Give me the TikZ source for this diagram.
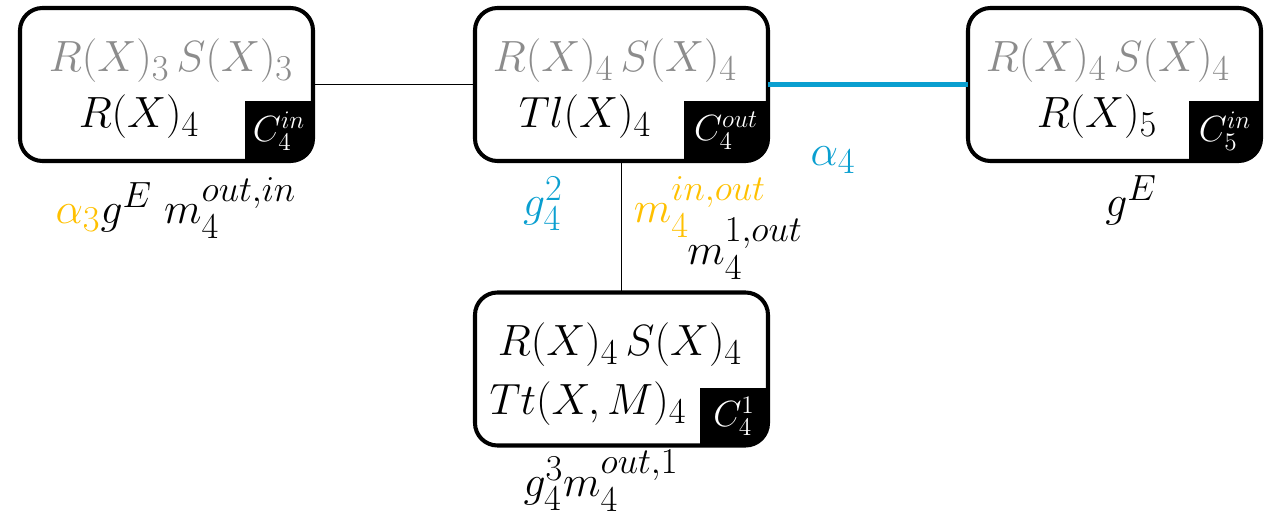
\documentclass[tikz,border=0pt]{standalone}
\usepackage{amsmath}
\usetikzlibrary{calc}
\definecolor{tgblue}{HTML}{0A9FD0}
\definecolor{tggold}{HTML}{FFC000}
\definecolor{tggray}{HTML}{8C8C8C}

\tikzset{
  bag/.style={draw,fill=white,line width=2.3pt,rounded corners=0.45cm,outer sep=0pt,
              minimum width=5.86cm,minimum height=3.06cm},
  tag/.style={fill=black,text=white,anchor=south east,inner sep=0pt,outer sep=0pt,
              minimum height=1.2cm,font=\fontsize{21}{24}\selectfont},
  big/.style={font=\fontsize{27.5}{30}\selectfont,inner sep=0pt},
  lbl/.style={font=\fontsize{29}{32}\selectfont,inner sep=0pt},
}

\begin{document}
\begin{tikzpicture}
  \useasboundingbox (0,0) rectangle (25.42,10.38);

  % =====================================================================
  % 1. BAGS
  % =====================================================================

  \node[bag] (b1) at (3.33, 8.69) {};
  \node[bag] (b2) at (12.43, 8.69) {};
  \node[bag] (b3) at (22.29, 8.69) {};
  \node[bag] (b4) at (12.43, 3.00) {};

  % corner tags
  \begin{scope}
    \clip[rounded corners=0.45cm] (b1.south west) rectangle (b1.north east);
    \node[tag,minimum width=1.36cm] (t1) at (b1.south east) {$C_4^{in}$};
  \end{scope}
  \begin{scope}
    \clip[rounded corners=0.45cm] (b2.south west) rectangle (b2.north east);
    \node[tag,minimum width=1.68cm] (t2) at (b2.south east) {$C_4^{out}$};
  \end{scope}
  \begin{scope}
    \clip[rounded corners=0.45cm] (b3.south west) rectangle (b3.north east);
    \node[tag,minimum width=1.44cm] (t3) at (b3.south east) {$C_5^{in}$};
  \end{scope}
  \begin{scope}
    \clip[rounded corners=0.45cm] (b4.south west) rectangle (b4.north east);
    \node[tag,minimum width=1.36cm,minimum height=1.16cm] (t4) at (b4.south east) {$C_4^{1}$};
  \end{scope}

  % bag contents
  \node[big,tggray] (b1top) at (3.42, 9.16) {$R(X)_3\,S(X)_3$};
  \node[big]        (b1bot) at (2.78, 8.04) {$R(X)_4$};
  \node[big,tggray] (b2top) at (12.30, 9.16) {$R(X)_4\,S(X)_4$};
  \node[big]        (b2bot) at (11.70, 8.04) {$Tl(X)_4$};
  \node[big,tggray] (b3top) at (22.16, 9.16) {$R(X)_4\,S(X)_4$};
  \node[big]        (b3bot) at (21.94, 8.04) {$R(X)_5$};
  \node[big]        (b4top) at (12.40, 3.48) {$R(X)_4\,S(X)_4$};
  \node[big]        (b4bot) at (11.76, 2.30) {$Tt(X,M)_4$};

  % =====================================================================
  % 2. EDGES
  % =====================================================================

  \draw[line width=1.1pt] (b1) -- (b2);
  \draw[line width=1.1pt] (b2) -- (b4);
  \draw[tgblue,line width=2.8pt] (b2) -- (b3);

  % =====================================================================
  % 3. LABELS
  % =====================================================================

  \node[lbl] (l1) at (3.52, 6.22) {$\textcolor{tggold}{\alpha_3}g^E\; m_4^{out,in}$};
  \node[lbl,tgblue] (l2) at (10.86, 6.30) {$g_4^2$};
  \node[lbl,tggold] (l3) at (14.00, 6.24) {$m_4^{in,out}$};
  \node[lbl] (l4) at (14.90, 5.40) {$m_4^{1,out}$};
  \node[lbl,tgblue] (l5) at (16.66, 7.18) {$\alpha_4$};
  \node[lbl] (l6) at (22.62, 6.38) {$g^E$};
  \node[lbl] (l7) at (12.02, 0.76) {$g_4^3 m_4^{out,1}$};

\end{tikzpicture}
\end{document}
